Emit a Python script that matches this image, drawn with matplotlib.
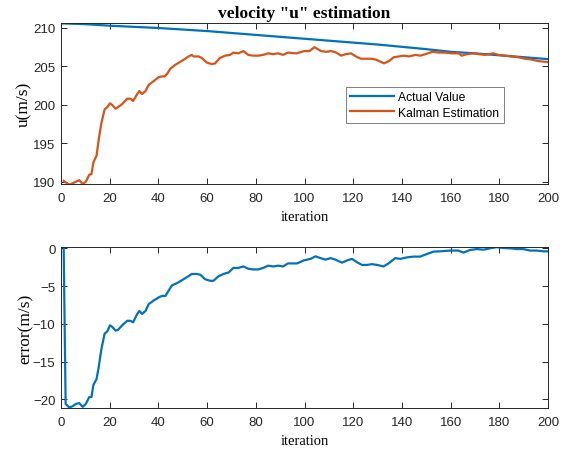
import matplotlib
matplotlib.use("Agg")
import matplotlib.pyplot as plt

# actual velocity u
act_iter = [0, 10, 20, 30, 40, 50, 60, 70, 80, 90, 100, 110, 120, 130, 140,
            150, 160, 170, 180, 190, 200]
act_u = [210.6, 210.5, 210.3, 210.15, 210.0, 209.8, 209.6, 209.35, 209.1, 208.85,
         208.6, 208.35, 208.1, 207.85, 207.55, 207.25, 206.9, 206.7, 206.45, 206.2, 205.95]

# kalman estimate of u
est_iter = [1.1, 3.4, 6.8, 7.5, 8.9, 10.2, 11.6, 12.5, 13.3, 14.6, 15.5, 16.5, 17.9, 19.0,
            20.1, 21.0, 22.4, 23.4, 25.1, 27.2, 28.5, 29.6, 31.3, 32.2, 33.3, 34.7, 36.0,
            38.1, 40.1, 41.5, 42.6, 43.5, 44.9, 46.9, 49.0, 51.0, 52.4, 53.7, 54.4, 56.5,
            57.8, 59.9, 61.9, 63.3, 65.3, 67.4, 69.4, 70.8, 72.8, 74.9, 76.9, 78.9, 81.0,
            83.0, 85.1, 87.1, 89.2, 91.2, 93.2, 96.6, 100.0, 102.0, 104.1, 106.8, 108.9,
            110.9, 113.0, 115.0, 117.0, 119.1, 121.1, 123.1, 125.2, 127.2, 129.2, 131.3,
            132.7, 134.7, 136.7, 138.8, 140.8, 142.9, 145.6, 147.6, 149.7, 152.4, 155.1,
            157.8, 160.5, 163.3, 164.6, 166.7, 169.4, 171.4, 174.1, 177.6, 179.6, 182.3,
            185.0, 187.8, 190.5, 193.2, 196.0, 198.8, 200.0]
est_u = [190.1, 189.6, 190.1, 190.2, 189.7, 190.0, 190.9, 191.0, 192.5, 193.4, 195.5,
         197.5, 199.4, 199.7, 200.2, 200.0, 199.5, 199.7, 200.1, 200.8, 200.8, 200.5,
         201.4, 201.8, 201.4, 201.8, 202.6, 203.1, 203.6, 203.7, 203.7, 204.0, 204.7,
         205.2, 205.6, 206.0, 206.3, 206.5, 206.3, 206.3, 206.1, 205.5, 205.3, 205.4,
         206.1, 206.4, 206.5, 206.8, 206.7, 207.0, 206.5, 206.4, 206.4, 206.5, 206.7,
         206.6, 206.7, 206.5, 206.8, 206.7, 207.0, 207.0, 207.5, 207.0, 206.9, 207.0,
         206.8, 206.4, 206.6, 206.7, 206.3, 206.0, 206.0, 206.0, 205.9, 205.6, 205.4,
         205.7, 206.2, 206.3, 206.4, 206.3, 206.5, 206.4, 206.6, 206.9, 206.8, 206.8,
         206.7, 206.7, 206.4, 206.6, 206.7, 206.6, 206.5, 206.7, 206.5, 206.4, 206.3,
         206.2, 206.0, 205.9, 205.7, 205.6, 205.55]

# estimation error
err_iter = [1.1, 1.9, 3.4, 4.8, 6.2, 7.5, 8.9, 10.2, 11.6, 12.5, 13.3, 14.6, 15.5, 16.5,
            17.9, 19.0, 20.1, 21.0, 22.4, 23.4, 25.1, 27.2, 28.5, 29.6, 31.3, 32.2, 33.3,
            34.7, 36.0, 38.1, 40.1, 41.5, 42.9, 44.2, 45.6, 47.7, 49.8, 51.8, 53.7, 55.8,
            57.2, 59.2, 61.3, 62.6, 64.7, 66.7, 68.8, 70.8, 72.8, 74.9, 76.9, 78.9, 81.0,
            83.0, 85.1, 87.1, 89.2, 91.2, 93.2, 94.9, 97.0, 99.7, 102.5, 104.5, 106.6,
            108.6, 110.7, 112.7, 115.4, 117.5, 119.5, 121.6, 123.6, 125.7, 127.7, 129.8,
            132.5, 134.5, 137.3, 139.3, 142.1, 144.8, 147.5, 150.3, 153.0, 155.7, 159.8,
            163.2, 165.3, 168.0, 170.8, 173.5, 176.2, 178.9, 181.7, 184.4, 187.2, 189.9,
            192.6, 195.4, 198.1, 200.0]
err = [0.0, -20.6, -21.1, -20.9, -20.6, -20.5, -21.0, -20.6, -19.7, -19.7, -18.1, -17.3,
       -15.7, -13.5, -11.3, -11.0, -10.2, -10.4, -10.9, -10.8, -10.2, -9.6, -9.6, -9.8,
       -8.7, -8.3, -8.7, -8.3, -7.4, -6.9, -6.5, -6.3, -6.3, -5.6, -4.9, -4.6, -4.2, -3.8,
       -3.4, -3.4, -3.5, -4.1, -4.3, -4.3, -3.7, -3.4, -3.2, -2.6, -2.6, -2.4, -2.7, -2.8,
       -2.8, -2.6, -2.3, -2.4, -2.3, -2.4, -2.0, -2.0, -2.0, -1.6, -1.4, -1.06, -1.3, -1.5,
       -1.3, -1.5, -1.9, -1.6, -1.4, -1.85, -2.2, -2.2, -2.1, -2.2, -2.4, -2.0, -1.3, -1.4,
       -1.2, -1.1, -1.1, -0.75, -0.44, -0.4, -0.3, -0.3, -0.57, -0.22, -0.1, -0.18, 0.0,
       0.15, 0.04, 0.0, -0.1, -0.1, -0.3, -0.3, -0.4, -0.4]

blue = "#0072BD"
orange = "#D95319"
serif = "Liberation Serif"
sans = "Liberation Sans"

plt.rcParams["font.family"] = sans
plt.rcParams["axes.edgecolor"] = "#262626"
plt.rcParams["xtick.color"] = "#262626"
plt.rcParams["ytick.color"] = "#262626"

fig = plt.figure(figsize=(5.66, 4.52), dpi=100)
ax1 = fig.add_axes([0.1078, 0.5907, 0.8604, 0.3562])
ax2 = fig.add_axes([0.1078, 0.0951, 0.8604, 0.3555])

for ax in (ax1, ax2):
    ax.tick_params(direction="in", top=True, right=True, length=4, width=0.7,
                   labelsize=9.5)
    ax.tick_params(axis="x", pad=6)
    ax.tick_params(axis="y", pad=4)
    for s in ax.spines.values():
        s.set_linewidth(0.7)
    ax.set_xlim(0, 200)
    ax.set_xticks(range(0, 201, 20))
    ax.set_xlabel("iteration", family=serif, fontsize=10.5, labelpad=4)

l1, = ax1.plot(act_iter, act_u, color=blue, lw=1.6, label="Actual Value")
l2, = ax1.plot(est_iter, est_u, color=orange, lw=1.6, label="Kalman Estimation")
ax1.set_ylim(189.7, 210.65)
ax1.set_yticks([190, 195, 200, 205, 210])
ax1.set_ylabel("u(m/s)", family=serif, fontsize=12.5, labelpad=1)
ax1.set_title('velocity "u" estimation', family=serif, fontweight="bold",
              fontsize=12.5, pad=4)
leg = ax1.legend(loc="upper left", bbox_to_anchor=(0.585, 0.604), borderaxespad=0,
                 fancybox=False, edgecolor="#7f7f7f", fontsize=8.7, handlelength=3.6,
                 handletextpad=0.4, borderpad=0.35, labelspacing=0.3, framealpha=1)
leg.get_frame().set_linewidth(0.7)

ax2.plot(err_iter, err, color=blue, lw=1.6)
ax2.set_ylim(-21.15, 0.13)
ax2.set_yticks([-20, -15, -10, -5, 0])
ax2.set_ylabel("error(m/s)", family=serif, fontsize=12.5, labelpad=-1)

fig.savefig("out.png", dpi=100)
